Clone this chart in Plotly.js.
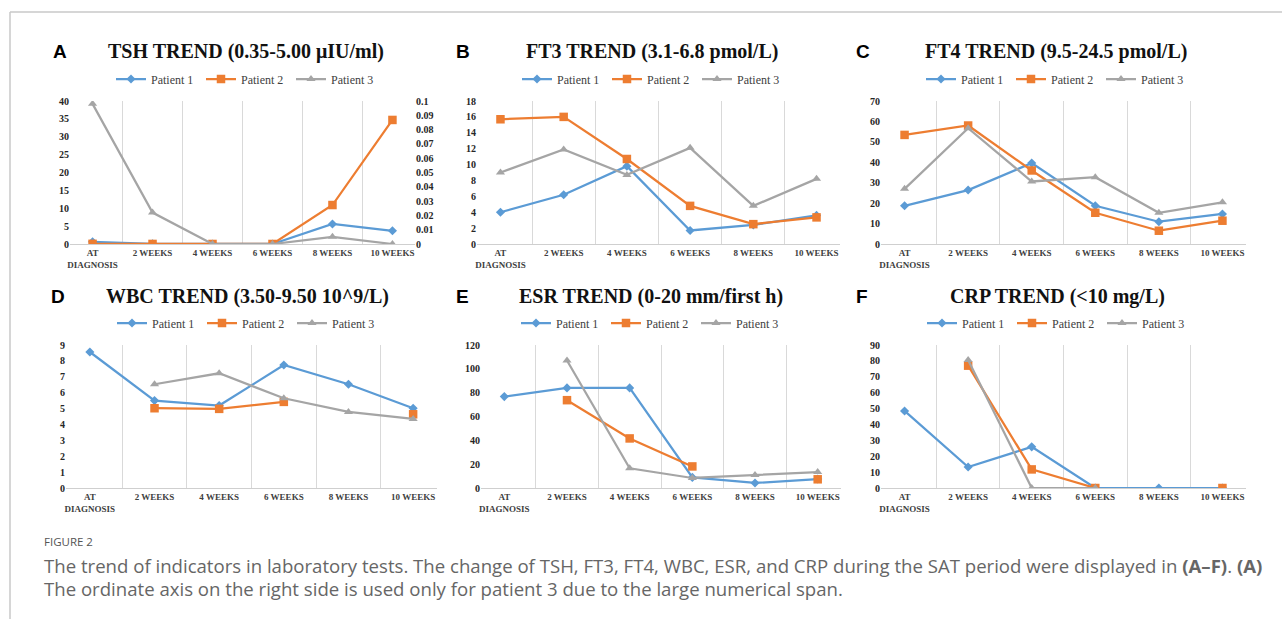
<!DOCTYPE html>
<html><head><meta charset="utf-8">
<script src="https://cdn.plot.ly/plotly-3.0.1.min.js"></script>
<style>html,body{margin:0;padding:0;background:#fff}#chart{width:1282px;height:619px}</style>
</head><body><div id="chart"></div>
<script>
const categories = ["AT<br>DIAGNOSIS","2 WEEKS","4 WEEKS","6 WEEKS","8 WEEKS","10 WEEKS"];
const patientNames = ["Patient 1","Patient 2","Patient 3"];
const tshP1 = [0.6, 0.05, 0.01, 0.01, 5.6, 3.7];
const tshP2 = [0.05, 0.02, 0.01, 0.01, 10.9, 34.7];
const tshP3 = [0.098, 0.022, 0, 0, 0.005, 0]; // right-hand axis
const ft3P1 = [4.0, 6.2, 9.8, 1.7, 2.4, 3.6];
const ft3P2 = [15.7, 16.0, 10.7, 4.8, 2.5, 3.35];
const ft3P3 = [9.0, 11.9, 8.7, 12.1, 4.8, 8.2];
const ft4P1 = [18.7, 26.4, 39.6, 18.7, 10.9, 14.7];
const ft4P2 = [53.4, 58.0, 36.0, 15.3, 6.5, 11.4];
const ft4P3 = [27.0, 56.7, 30.6, 32.7, 15.3, 20.4];
const wbcP1 = [8.56, 5.5, 5.19, 7.74, 6.53, 5.02];
const wbcP2 = [null, 5.02, 4.98, 5.42, null, 4.64];
const wbcP3 = [null, 6.53, 7.22, 5.65, 4.79, 4.35];
const esrP1 = [76.7, 84, 84, 8.9, 4.2, 7.5];
const esrP2 = [null, 73.7, 41.6, 18.1, null, 7.3];
const esrP3 = [null, 107, 16.5, 8.4, 10.9, 13.4];
const crpP1 = [48.5, 13.2, 25.9, 0, 0, 0];
const crpP2 = [null, 77, 11.7, 0, null, 0];
const crpP3 = [null, 80.5, 0, 0, null, null];
const panelTitles = ["TSH TREND (0.35-5.00 μIU/ml)","FT3 TREND (3.1-6.8 pmol/L)","FT4 TREND (9.5-24.5 pmol/L)",
  "WBC TREND (3.50-9.50 10^9/L)","ESR TREND (0-20 mm/first h)","CRP TREND (<10 mg/L)"];
const panelLetters = ["A","B","C","D","E","F"];
const yRanges = [[0,40],[0,18],[0,70],[0,9],[0,120],[0,90]];
const yDticks = [5,2,10,1,20,10];
const tshRightRange = [0,0.1];
const tshRightDtick = 0.01;

const series = [[tshP1,tshP2,tshP3],[ft3P1,ft3P2,ft3P3],[ft4P1,ft4P2,ft4P3],
  [wbcP1,wbcP2,wbcP3],[esrP1,esrP2,esrP3],[crpP1,crpP2,crpP3]];

const W = 1282, H = 619;
const px = v => v / W, py = v => 1 - v / H;
// plot boxes in pixels [left, right, top, bottom]
const boxes = [[70,415,101,244],[477,840,101,244],[881,1246,101,244],
  [66,437,345,488],[481,841,345,488],[881,1246,345,488]];
const titleCx = [246,652,1056,247,651,1057];
const letterCx = [60,463,863,58,462,862];
const rowTitleY = [51,51,51,296,296,296];
const legendY = [79,79,79,323,323,323];

const colors = ["#5B9BD5","#ED7D31","#A5A5A5"];
const symbols = ["diamond","square","triangle-up"];
const msizes = [7,8.5,8];

const serif = "Liberation Serif";
const data = [];
const layout = {
  width: W, height: H, margin: {l:0,r:0,t:0,b:0},
  paper_bgcolor: "#fff", plot_bgcolor: "#fff", showlegend: true,
  annotations: [], shapes: []
};

for (let p = 0; p < 6; p++) {
  const sfx = p === 0 ? "" : String(p+1);
  const legendId = p === 0 ? "legend" : "legend" + (p+1);
  const [l,r,t,b] = boxes[p];
  layout["xaxis"+sfx] = {
    domain: [px(l), px(r)], anchor: "y"+sfx, type: "category",
    tickson: "boundaries", showgrid: true, gridcolor: "#d9d9d9", gridwidth: 1,
    showline: true, linecolor: "#cfcfcf", linewidth: 1, ticks: "",
    tickfont: {family: serif, size: 9, weight: "bold", color: "#404040"},
    fixedrange: true
  };
  layout["yaxis"+sfx] = {
    domain: [py(b), py(t)], anchor: "x"+sfx, range: yRanges[p], dtick: yDticks[p],
    showgrid: false, zeroline: false, showline: false, ticks: "",
    tickfont: {family: serif, size: 10, weight: "bold", color: "#262626"},
    fixedrange: true
  };
  layout[legendId] = {
    x: px(titleCx[p]), y: py(legendY[p]), xanchor: "center", yanchor: "middle",
    orientation: "h", font: {family: serif, size: 12, color: "#404040"},
    bgcolor: "rgba(0,0,0,0)", itemwidth: 30, tracegroupgap: 0,
    entrywidth: 45, entrywidthmode: "pixels"
  };
  for (let s = 0; s < 3; s++) {
    let yax = "y"+sfx;
    if (p === 0 && s === 2) yax = "y7";
    data.push({
      type: "scatter", mode: "lines+markers", name: patientNames[s],
      x: categories, y: series[p][s], xaxis: "x"+sfx, yaxis: yax,
      legend: legendId, connectgaps: false, hoverinfo: "skip",
      line: {color: colors[s], width: 2.25},
      marker: {symbol: symbols[s], size: msizes[s], color: colors[s]}
    });
  }
  layout.annotations.push({
    text: "<b>" + panelTitles[p].replace("<","&lt;") + "</b>",
    xref: "paper", yref: "paper", x: px(titleCx[p]), y: py(rowTitleY[p]),
    xanchor: "center", yanchor: "middle", showarrow: false,
    font: {family: serif, size: 20, color: "#111"}
  });
  layout.annotations.push({
    text: "<b>" + panelLetters[p] + "</b>",
    xref: "paper", yref: "paper", x: px(letterCx[p]), y: py(rowTitleY[p]),
    xanchor: "center", yanchor: "middle", showarrow: false,
    font: {family: "Liberation Sans", size: 19, color: "#000"}
  });
}
layout.yaxis7 = {
  overlaying: "y", side: "right", anchor: "x", range: tshRightRange, dtick: tshRightDtick,
  showgrid: false, zeroline: false, showline: false, ticks: "",
  tickfont: {family: serif, size: 10, weight: "bold", color: "#262626"}, fixedrange: true
};

// frame
layout.shapes.push({type:"line", xref:"paper", yref:"paper", x0:px(10), x1:1, y0:py(12), y1:py(12), line:{color:"#c8c8c8", width:1.5}});
layout.shapes.push({type:"line", xref:"paper", yref:"paper", x0:px(10), x1:px(10), y0:py(12), y1:0, line:{color:"#c8c8c8", width:1.5}});

// caption
layout.annotations.push({
  text: "FIGURE 2", xref:"paper", yref:"paper", x:px(42), y:py(541), xanchor:"left", yanchor:"middle",
  showarrow:false, font:{family:"Open Sans", size:11.5, color:"#555"}
});
layout.annotations.push({
  text: "The trend of indicators in laboratory tests. The change of TSH, FT3, FT4, WBC, ESR, and CRP during the SAT period were displayed in <b>(A–F)</b>. <b>(A)</b>",
  xref:"paper", yref:"paper", x:px(42), y:py(565), xanchor:"left", yanchor:"middle",
  showarrow:false, font:{family:"Open Sans", size:18.6, color:"#666"}
});
layout.annotations.push({
  text: "The ordinate axis on the right side is used only for patient 3 due to the large numerical span.",
  xref:"paper", yref:"paper", x:px(42), y:py(588), xanchor:"left", yanchor:"middle",
  showarrow:false, font:{family:"Open Sans", size:18.6, color:"#666"}
});

Plotly.newPlot("chart", data, layout, {staticPlot: true, displayModeBar: false});
</script></body></html>
